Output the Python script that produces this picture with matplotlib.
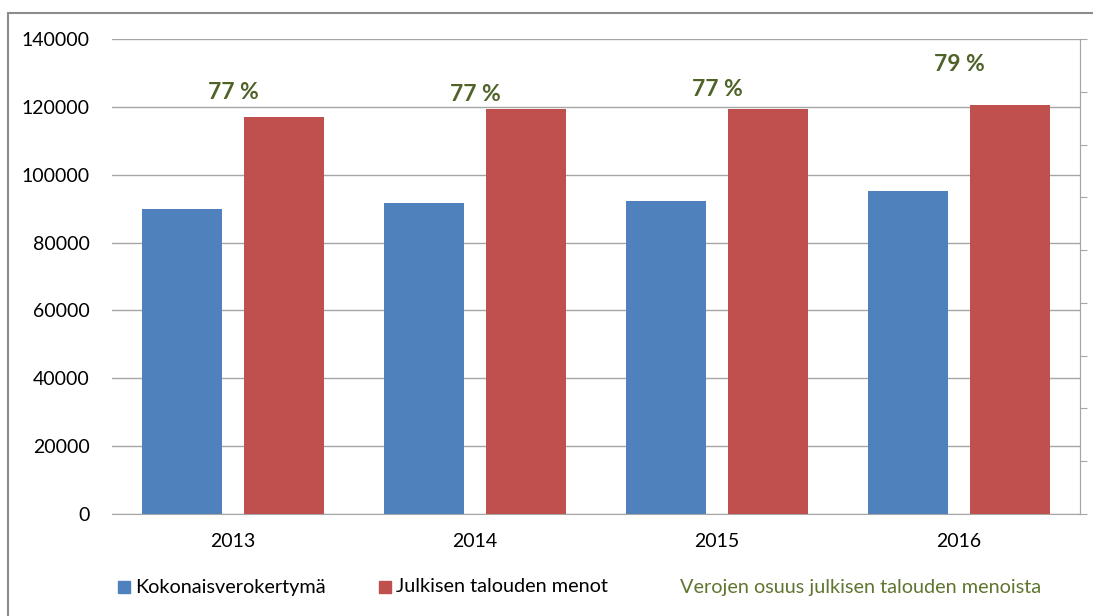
import matplotlib
matplotlib.use("Agg")
import matplotlib.pyplot as plt
from matplotlib.patches import Rectangle
import numpy as np

plt.rcParams['font.family'] = ['Lato', 'DejaVu Sans']

years = ["2013", "2014", "2015", "2016"]
verot = [89900, 91700, 92250, 95200]
menot = [117100, 119400, 119400, 120500]
osuus = ["77 %", "77 %", "77 %", "79 %"]
label_y = [124100, 123500, 125000, 132600]
yticks = [0, 20000, 40000, 60000, 80000, 100000, 120000, 140000]

blue = "#4f81bd"
red = "#c0504d"
green = "#4f6228"
grid = "#a6a6a6"

W, H = 1093, 616
fig = plt.figure(figsize=(W / 100, H / 100), dpi=100)
ax = fig.add_axes([112 / W, (H - 514) / H, (1080 - 112) / W, (514 - 39) / H])

x = np.arange(len(years))
bw = 0.33
off = 0.209
ax.bar(x - off, verot, bw, color=blue, zorder=3)
ax.bar(x + off, menot, bw, color=red, zorder=3)

for xi, t, ly in zip(x, osuus, label_y):
    ax.text(xi, ly, t, ha="center", va="center", color=green,
            fontsize=16.5, fontweight="bold", zorder=4)

ax.set_xlim(-0.5, len(years) - 0.5)
ax.set_ylim(0, 140000)
ax.set_yticks(yticks)
ax.set_yticklabels([str(v) for v in yticks])
ax.set_xticks(x)
ax.set_xticklabels(years)
ax.tick_params(axis="both", length=0, labelsize=14, colors="black")
ax.tick_params(axis="y", pad=16)
ax.tick_params(axis="x", pad=14)
ax.grid(axis="y", color=grid, linewidth=1, zorder=0)
for s in ["left", "top"]:
    ax.spines[s].set_visible(False)
ax.spines["bottom"].set_color(grid)
ax.spines["right"].set_color(grid)

ax2 = ax.twinx()
ax2.set_ylim(0, 0.9)
ax2.set_yticks(np.arange(0, 0.91, 0.1))
ax2.set_yticklabels([])
ax2.tick_params(axis="y", length=5, color=grid, direction="out")
for s in ["left", "top", "bottom"]:
    ax2.spines[s].set_visible(False)
ax2.spines["right"].set_color(grid)

# outer border
fig.patches.append(Rectangle((8 / W, -0.1), 1.2, (H - 13) / H + 0.1,
                             transform=fig.transFigure, fill=False,
                             edgecolor="#8c8c8c", linewidth=1.5))

ly = (H - 587) / H
fs = 14.3
fig.patches.append(Rectangle((118 / W, ly - 6 / H), 12 / W, 12 / H,
                             transform=fig.transFigure, color=blue))
fig.text(135 / W, ly, "Kokonaisverokertymä", va="center", ha="left", fontsize=fs)
fig.patches.append(Rectangle((379 / W, ly - 6 / H), 12 / W, 12 / H,
                             transform=fig.transFigure, color=red))
fig.text(396 / W, ly, "Julkisen talouden menot", va="center", ha="left", fontsize=fs)
fig.text(680 / W, ly, "Verojen osuus julkisen talouden menoista", va="center",
         ha="left", fontsize=fs, color="#5f7530")

fig.savefig("out.png", dpi=100)
